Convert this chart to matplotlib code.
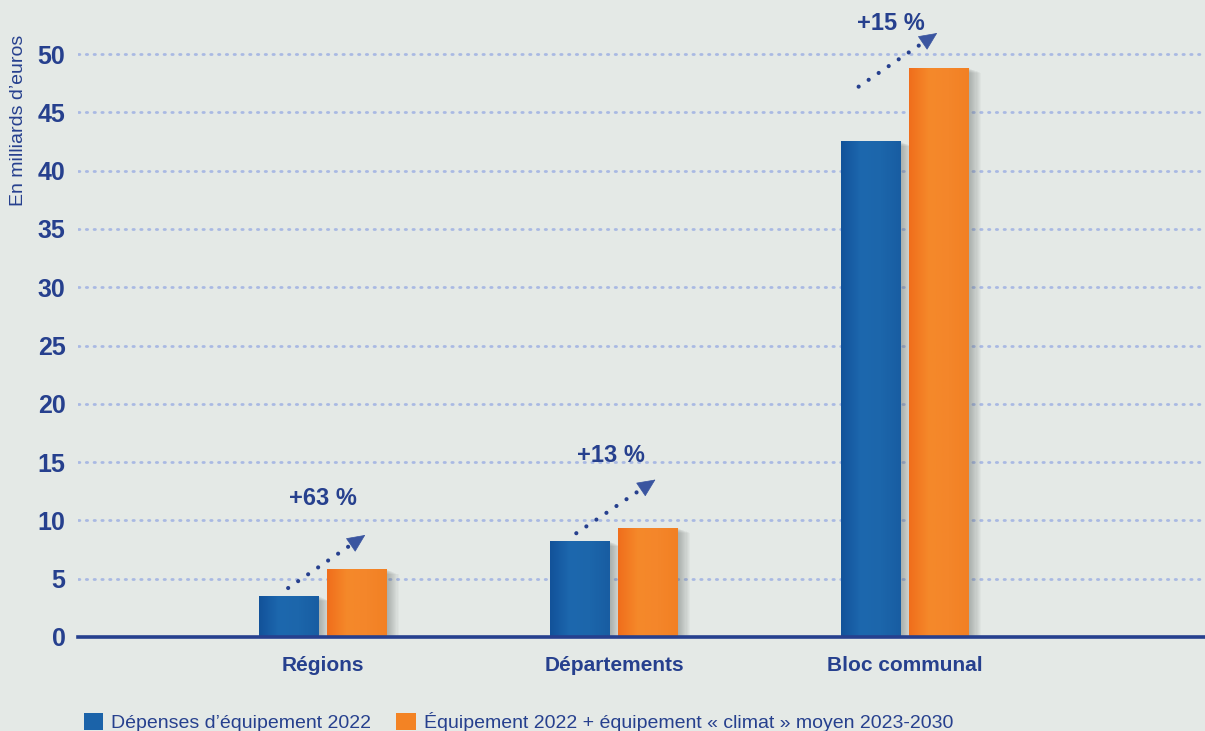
import matplotlib
matplotlib.use("Agg")
import matplotlib.pyplot as plt
import matplotlib.patheffects as pe
from matplotlib.patches import Patch
from matplotlib.colors import LinearSegmentedColormap
import numpy as np

categories = ["Régions", "Départements", "Bloc communal"]
depenses_2022 = [3.5, 8.2, 42.5]
equip_climat = [5.8, 9.35, 48.8]
growth_labels = ["+63 %", "+13 %", "+15 %"]
yticks = [0, 5, 10, 15, 20, 25, 30, 35, 40, 45, 50]
legend_labels = ["Dépenses d’équipement 2022",
                 "Équipement 2022 + équipement « climat » moyen 2023-2030"]
ylabel = "En milliards d’euros"

# arrow geometry (data units) per category: start/end x offsets and y values
arrow_x0 = [-0.12, -0.13, -0.16]
arrow_x1 = [0.145, 0.142, 0.11]
arrow_y0 = [4.2, 8.9, 47.2]
arrow_y1 = [8.75, 13.5, 51.8]
label_dx = [0.0, -0.01, -0.05]
label_y = [11.9, 15.6, 52.6]

BG = "#e4e9e6"
BLUE = "#1b63a9"
ORANGE = "#f38324"
NAVY = "#26408e"
GRID = "#a9b9e3"
FONT = ["Liberation Sans", "DejaVu Sans"]

plt.rcParams["font.family"] = FONT

fig = plt.figure(figsize=(12.05, 7.31), dpi=100, facecolor=BG)
ax = fig.add_axes([78 / 1205, 1 - 637 / 731, 1 - 78 / 1205, 637 / 731])
ax.set_facecolor(BG)

x = np.arange(len(categories))
w = 0.206
off = 0.117
shadow = [pe.SimplePatchShadow(offset=(k * 0.75, -k * 0.3), shadow_rgbFace="#5a6260", alpha=0.045)
          for k in range(1, 12)] + [pe.Normal()]
b1 = ax.bar(x - off, depenses_2022, w, color=BLUE, zorder=3, path_effects=shadow)
b2 = ax.bar(x + off, equip_climat, w, color=ORANGE, zorder=3, path_effects=shadow)

# subtle horizontal gradient inside bars
cm_blue = LinearSegmentedColormap.from_list("b", ["#12529a", "#1d68ae", "#1c66ab", "#185da2"])
cm_orng = LinearSegmentedColormap.from_list("o", ["#f06e1c", "#f5892a", "#f4862a", "#f28023"])
grad = np.linspace(0, 1, 64).reshape(1, -1)
for bars, cm in ((b1, cm_blue), (b2, cm_orng)):
    for r in bars:
        im = ax.imshow(grad, cmap=cm, aspect="auto", zorder=3.5,
                       extent=(r.get_x(), r.get_x() + r.get_width(), 0, r.get_height()))
        im.set_clip_path(r)

ax.set_xlim(-0.842, 3.03)
ax.set_ylim(0, 637 / 11.66)

for s in ax.spines.values():
    s.set_visible(False)
ax.axhline(0, color=NAVY, lw=2.6, zorder=4, clip_on=False)
for t in yticks[1:]:
    ax.axhline(t, color=GRID, lw=2.0, ls=(0, (0.5, 2.3)), dash_capstyle="round", zorder=1)

ax.set_yticks(yticks)
ax.set_yticklabels([str(t) for t in yticks], fontsize=18, fontweight="bold", color=NAVY)
ax.tick_params(axis="y", length=0, pad=9)
ax.set_xticks(x)
ax.set_xticklabels(categories, fontsize=15, fontweight="bold", color=NAVY)
ax.tick_params(axis="x", length=0, pad=14)

fig.text(19 / 1205, 1 - 120 / 731, ylabel, rotation=90, ha="center", va="center",
         fontsize=14, color=NAVY)

for i in range(len(categories)):
    xs = [x[i] + arrow_x0[i], x[i] + arrow_x1[i]]
    ys = [arrow_y0[i], arrow_y1[i]]
    fx = xs[0] + 0.82 * (xs[1] - xs[0])
    fy = ys[0] + 0.82 * (ys[1] - ys[0])
    ax.plot([xs[0], fx], [ys[0], fy], color=NAVY, lw=3.0, ls=(0, (0.01, 2.9)),
            dash_capstyle="round", zorder=5, clip_on=False)
    ax.annotate("", xy=(xs[1], ys[1]), xytext=(fx, fy),
                arrowprops=dict(arrowstyle="-|>,head_length=1.2,head_width=0.55", color="#3a55a0",
                                lw=0.5, shrinkA=0, shrinkB=0),
                zorder=5, annotation_clip=False)
    ax.text(x[i] + label_dx[i], label_y[i], growth_labels[i], ha="center", va="center",
            fontsize=17, fontweight="bold", color=NAVY, clip_on=False)

handles = [Patch(facecolor=BLUE), Patch(facecolor=ORANGE)]
leg = fig.legend(handles, legend_labels, loc="lower left", bbox_to_anchor=(76 / 1205, -0.012),
                 ncol=2, frameon=False, fontsize=14, handlelength=1.0, handleheight=1.0,
                 handletextpad=0.4, columnspacing=1.3, borderaxespad=0)
for t in leg.get_texts():
    t.set_color(NAVY)

fig.savefig("out.png", dpi=100, facecolor=BG)
